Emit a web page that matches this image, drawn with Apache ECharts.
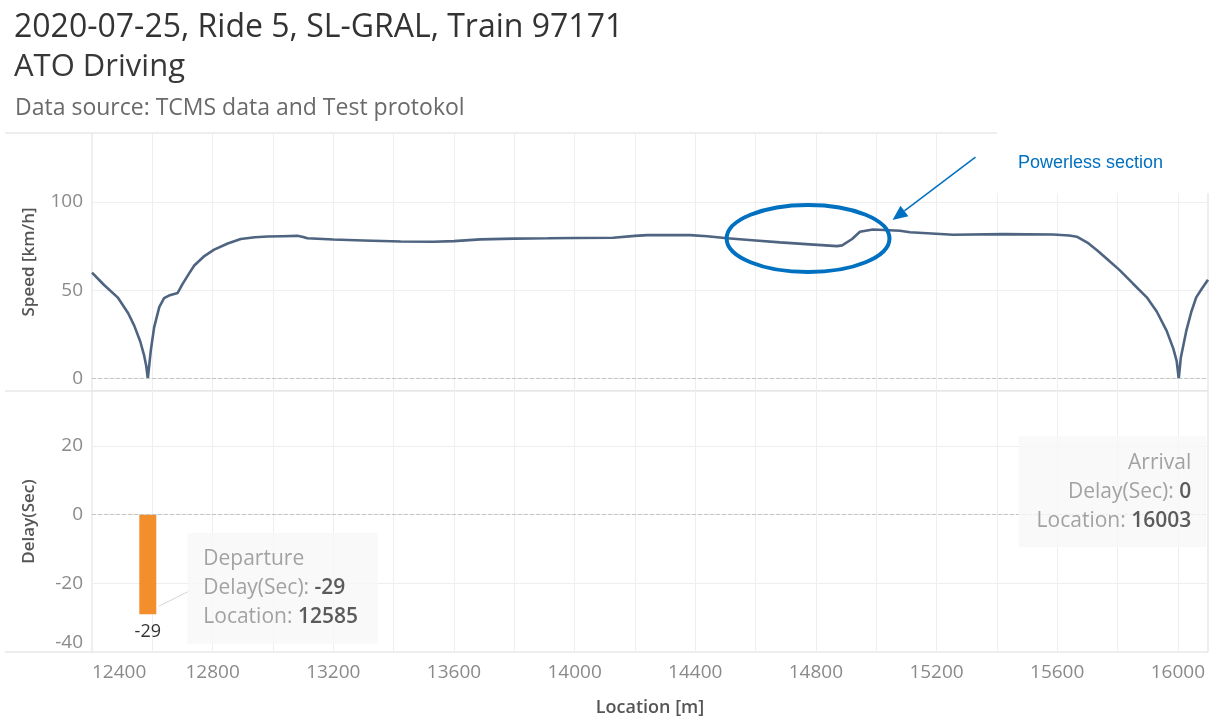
<!DOCTYPE html>
<html>
<head>
<meta charset="utf-8">
<title>ATO Driving</title>
<script src="https://cdn.jsdelivr.net/npm/echarts@6/dist/echarts.min.js"></script>
<style>
  html, body { margin: 0; padding: 0; background: #fff; }
  #chart { width: 1219px; height: 726px; }
</style>
</head>
<body>
<div id="chart"></div>
<script>
// speed trace: location along the line [m] and speed [km/h]
const locations = [
  12400, 12440, 12485, 12520, 12540, 12560, 12573, 12580, 12585,
  12590, 12595, 12606, 12623, 12639, 12655, 12684, 12700, 12720, 12739,
  12770, 12805, 12850, 12893, 12940, 12982, 13030, 13081, 13100, 13114,
  13200, 13300, 13423, 13532, 13600, 13688, 13800, 13910, 14000, 14128,
  14200, 14241, 14383, 14440, 14506, 14600, 14681, 14780, 14870, 14887,
  14920, 14946, 14989, 15079, 15112, 15255, 15420, 15586, 15640, 15665,
  15700, 15732, 15770, 15807, 15850, 15897, 15930, 15963, 15985, 15996,
  16003, 16010, 16028, 16045, 16061, 16080, 16100
];
const speeds = [
  60, 53, 46, 37, 30, 21, 13, 7, 0,
  8, 16, 29, 40.5, 45.5, 47, 48.5, 53.5, 59, 64,
  69, 73, 76.5, 79, 80, 80.4, 80.6, 80.8, 80.2, 79.4,
  78.7, 78.2, 77.6, 77.5, 77.8, 78.8, 79.2, 79.4, 79.6, 79.7,
  80.8, 81.2, 81.2, 80.6, 79.4, 78.2, 77.1, 76, 75, 75.4,
  79, 83.1, 84.4, 83.7, 82.8, 81.4, 81.8, 81.6, 81, 80.3,
  77, 72.7, 67, 61.4, 54, 46, 38, 27, 17, 10,
  0, 12, 27, 38, 46, 51, 56
];

// delay at the stops
const eventNames = ['Departure', 'Arrival'];
const eventLocations = [12585, 16003];
const eventDelays = [-29, 0];

// tick labels
const locationTicks = [12400, 12800, 13200, 13600, 14000, 14400, 14800, 15200, 15600, 16000];
const speedTicks = [0, 50, 100];
const delayTicks = [-40, -20, 0, 20];

const FONT = '"Open Sans", "Noto Sans", sans-serif';
const GRID_LINE = '#eeeeee';
const BORDER = '#dcdcdc';

const chart = echarts.init(document.getElementById('chart'));

const zeroLine = {
  silent: true,
  symbol: 'none',
  label: { show: false },
  lineStyle: { type: 'dashed', color: '#c4c4c4', width: 1 },
  data: [{ yAxis: 0 }]
};

function xAxisFor(gridIndex, withLabels) {
  return {
    type: 'value',
    gridIndex: gridIndex,
    min: 12400,
    max: 16100,
    interval: 200,
    axisLine: { show: false },
    axisTick: { show: false },
    splitLine: { lineStyle: { color: GRID_LINE } },
    axisLabel: {
      show: withLabels,
      fontSize: 19,
      color: '#8a8a8a',
      margin: 11,
      alignMinLabel: 'left',
      formatter: v => locationTicks.includes(v) ? String(v) : ''
    },
    name: withLabels ? 'Location [m]' : '',
    nameLocation: 'middle',
    nameGap: 47,
    nameTextStyle: { fontSize: 18, fontWeight: 600, color: '#555' }
  };
}

const annotationRich = {
  t: { color: '#8c8c8c', fontSize: 21, lineHeight: 29, fontFamily: FONT },
  k: { color: '#8c8c8c', fontSize: 21, lineHeight: 29, fontFamily: FONT },
  v: { color: '#333', fontSize: 21, lineHeight: 29, fontWeight: 600, fontFamily: FONT }
};

const option = {
  animation: false,
  backgroundColor: '#fff',
  textStyle: { fontFamily: FONT },
  title: [
    {
      text: '2020-07-25, Ride 5, SL-GRAL, Train 97171',
      left: 9, top: 7,
      textStyle: { fontSize: 32, fontWeight: 'normal', color: '#333', fontFamily: FONT }
    },
    {
      text: 'ATO Driving',
      left: 9, top: 47,
      textStyle: { fontSize: 31, fontWeight: 500, color: '#383838', fontFamily: FONT }
    },
    {
      text: 'Data source: TCMS data and Test protokol',
      left: 10, top: 92,
      textStyle: { fontSize: 23, fontWeight: 'normal', color: '#6a6a6a', fontFamily: FONT }
    }
  ],
  grid: [
    { left: 92, right: 11, top: 133, height: 258, show: true, borderColor: BORDER, borderWidth: 1 },
    { left: 92, right: 11, top: 391, height: 261, show: true, borderColor: BORDER, borderWidth: 1 }
  ],
  xAxis: [xAxisFor(0, false), xAxisFor(1, true)],
  yAxis: [
    {
      type: 'value',
      gridIndex: 0,
      min: -7,
      max: 139,
      splitNumber: 3,
      axisLine: { show: false },
      axisTick: { show: false },
      splitLine: { lineStyle: { color: GRID_LINE } },
      axisLabel: {
        fontSize: 19, color: '#8a8a8a', margin: 9,
        formatter: v => speedTicks.includes(v) ? String(v) : ''
      },
      name: 'Speed [km/h]',
      nameLocation: 'middle',
      nameGap: 54,
      nameTextStyle: { fontSize: 17, fontWeight: 600, color: '#555' }
    },
    {
      type: 'value',
      gridIndex: 1,
      min: -40,
      max: 36,
      splitNumber: 4,
      axisLine: { show: false },
      axisTick: { show: false },
      splitLine: { lineStyle: { color: GRID_LINE } },
      axisLabel: {
        fontSize: 19, color: '#8a8a8a', margin: 9,
        verticalAlignMinLabel: 'bottom',
        formatter: v => delayTicks.includes(v) ? String(v) : ''
      },
      name: 'Delay(Sec)',
      nameLocation: 'middle',
      nameGap: 54,
      nameTextStyle: { fontSize: 17, fontWeight: 600, color: '#555' }
    }
  ],
  series: [
    {
      name: 'Speed',
      type: 'line',
      xAxisIndex: 0,
      yAxisIndex: 0,
      data: locations.map((x, i) => [x, speeds[i]]),
      showSymbol: false,
      lineStyle: { color: '#4e6480', width: 2.6 },
      markLine: zeroLine,
      z: 3
    },
    {
      name: 'Delay',
      type: 'bar',
      xAxisIndex: 1,
      yAxisIndex: 1,
      data: eventLocations.map((x, i) => [x, eventDelays[i]]),
      barWidth: 17,
      itemStyle: { color: '#f28e2b' },
      label: {
        show: true,
        position: 'bottom',
        distance: 9,
        fontSize: 18,
        color: '#333',
        formatter: p => p.value[1] ? String(p.value[1]) : ''
      },
      markLine: zeroLine
    },
    {
      name: 'Annotations',
      type: 'scatter',
      xAxisIndex: 1,
      yAxisIndex: 1,
      silent: true,
      symbolSize: 1,
      itemStyle: { color: 'transparent' },
      z: 10,
      data: eventLocations.map((x, i) => ({
        value: [x, eventDelays[i]],
        name: eventNames[i],
        label: i === 0
          ? { position: [40, -81], align: 'left', verticalAlign: 'top', padding: [12, 20, 12, 16] }
          : { position: [28, -78], align: 'right', verticalAlign: 'top', padding: [12, 15, 12, 18] }
      })),
      label: {
        show: true,
        backgroundColor: '#f7f7f7',
        rich: annotationRich,
        formatter: p =>
          '{t|' + p.name + '}\n' +
          '{k|Delay(Sec): }{v|' + p.value[1] + '}\n' +
          '{k|Location: }{v|' + p.value[0] + '}'
      }
    }
  ]
};

chart.setOption(option);

// overlay annotations, placed from data coordinates
const dep = chart.convertToPixel({ gridIndex: 1 }, [eventLocations[0], eventDelays[0]]);
const topLeft = chart.convertToPixel({ gridIndex: 0 }, [14504, 98.3]);
const botRight = chart.convertToPixel({ gridIndex: 0 }, [15044, 60.3]);
const cx = (topLeft[0] + botRight[0]) / 2;
const cy = (topLeft[1] + botRight[1]) / 2;
const rx = (botRight[0] - topLeft[0]) / 2;
const ry = (botRight[1] - topLeft[1]) / 2;

const tip = [cx + rx + 3, cy - ry * 0.55];
const tail = [tip[0] + 83, tip[1] - 63];
const len = Math.hypot(tail[0] - tip[0], tail[1] - tip[1]);
const ux = (tip[0] - tail[0]) / len, uy = (tip[1] - tail[1]) / len;
const headLen = 15, headW = 6.5;
const base = [tip[0] - ux * headLen, tip[1] - uy * headLen];
const ANNOT = '#0070c0';

const sepY = [133, 391, 652];

chart.setOption({
  graphic: [
    // pane dividers running into the axis area
    ...sepY.map(y => ({
      type: 'line', z: 1, silent: true,
      shape: { x1: 5, y1: y, x2: 92, y2: y },
      style: { stroke: BORDER, lineWidth: 1 }
    })),
    // leader from the departure bar to its note
    {
      type: 'line', z: 5, silent: true,
      shape: { x1: dep[0] + 11, y1: dep[1] - 8, x2: dep[0] + 43, y2: dep[1] - 24 },
      style: { stroke: '#d6d6d6', lineWidth: 1 }
    },
    // "Powerless section" call-out
    {
      type: 'rect', z: 50, silent: true,
      shape: { x: 997, y: 122, width: 222, height: 71 },
      style: { fill: '#fff' }
    },
    {
      type: 'text', z: 51, silent: true,
      x: 1018, y: 163,
      style: {
        text: 'Powerless section',
        fill: ANNOT,
        font: '18px "Liberation Sans", Arial, sans-serif',
        verticalAlign: 'middle'
      }
    },
    {
      type: 'ellipse', z: 51, silent: true,
      shape: { cx: cx, cy: cy, rx: rx, ry: ry },
      style: { fill: 'none', stroke: ANNOT, lineWidth: 4 }
    },
    {
      type: 'line', z: 51, silent: true,
      shape: { x1: tail[0], y1: tail[1], x2: base[0], y2: base[1] },
      style: { stroke: ANNOT, lineWidth: 1.5 }
    },
    {
      type: 'polygon', z: 51, silent: true,
      shape: {
        points: [
          tip,
          [base[0] - uy * headW, base[1] + ux * headW],
          [base[0] + uy * headW, base[1] - ux * headW]
        ]
      },
      style: { fill: ANNOT }
    }
  ]
});
</script>
</body>
</html>
